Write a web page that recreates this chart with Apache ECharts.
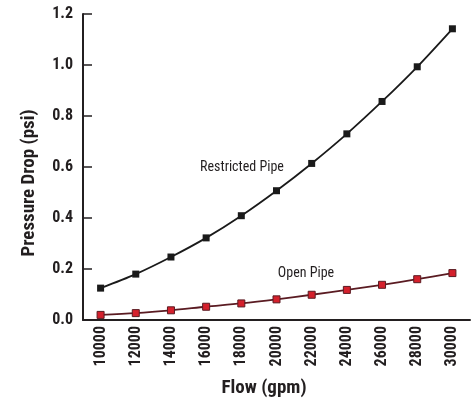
<!DOCTYPE html>
<html><head><meta charset="utf-8">
<script src="https://cdn.jsdelivr.net/npm/echarts@6/dist/echarts.min.js"></script>
<style>html,body{margin:0;padding:0;background:#fff}#c{width:476px;height:402px}</style>
</head><body><div id="c"></div>
<script>
var categories = ['10000','12000','14000','16000','18000','20000','22000','24000','26000','28000','30000'];
var restrictedPipe = [0.125,0.18,0.247,0.322,0.409,0.507,0.614,0.73,0.857,0.993,1.142];
var openPipe = [0.02,0.027,0.038,0.052,0.065,0.081,0.099,0.118,0.138,0.16,0.184];
var yTicks = [0.0,0.2,0.4,0.6,0.8,1.0,1.2];

var FONT = '"Roboto Condensed","Open Sans Condensed",sans-serif';
var AX = '#231f20';
var chart = echarts.init(document.getElementById('c'));
chart.setOption({
  animation:false,
  grid:{left:83,right:6,top:14,bottom:82,containLabel:false},
  xAxis:{type:'category',data:categories,boundaryGap:true,
    axisLine:{lineStyle:{color:AX,width:2}},
    axisTick:{inside:true,length:8,lineStyle:{color:AX,width:1.5},alignWithLabel:false},
    axisLabel:{rotate:90,color:AX,fontFamily:FONT,fontWeight:'bold',fontSize:16,margin:6,interval:0}},
  yAxis:{type:'value',min:0,max:1.2,interval:0.2,
    axisLine:{show:true,lineStyle:{color:AX,width:2}},
    axisTick:{show:true,inside:true,length:9,lineStyle:{color:AX,width:1.5}},
    splitLine:{show:false},
    axisLabel:{color:AX,fontFamily:FONT,fontWeight:'bold',fontSize:16,margin:10,
      formatter:function(v){return yTicks[Math.round(v/0.2)].toFixed(1);}}},
  graphic:[
    {type:'text',style:{text:'Flow (gpm)',font:'bold 19px '+FONT,fill:AX,x:264,y:388,align:'center',verticalAlign:'middle'}},
    {type:'text',x:29,y:183,rotation:Math.PI/2,style:{text:'Pressure Drop (psi)',font:'bold 19px '+FONT,fill:AX,align:'center',verticalAlign:'middle'}},
    {type:'text',style:{text:'Restricted Pipe',font:'14px '+FONT,fill:AX,x:242,y:167,align:'center',verticalAlign:'middle'}},
    {type:'text',style:{text:'Open Pipe',font:'14px '+FONT,fill:AX,x:306,y:273,align:'center',verticalAlign:'middle'}}
  ],
  series:[
    {name:'Restricted Pipe',type:'line',data:restrictedPipe,smooth:0.3,symbol:'rect',symbolSize:7,
      lineStyle:{color:'#1a1a1a',width:1.8},itemStyle:{color:'#1a1a1a'}},
    {name:'Open Pipe',type:'line',data:openPipe,smooth:0.3,symbol:'rect',symbolSize:7,
      lineStyle:{color:'#5a1b22',width:1.8},itemStyle:{color:'#d4202c',borderColor:'#5a1b22',borderWidth:1}}
  ]
});
</script></body></html>
